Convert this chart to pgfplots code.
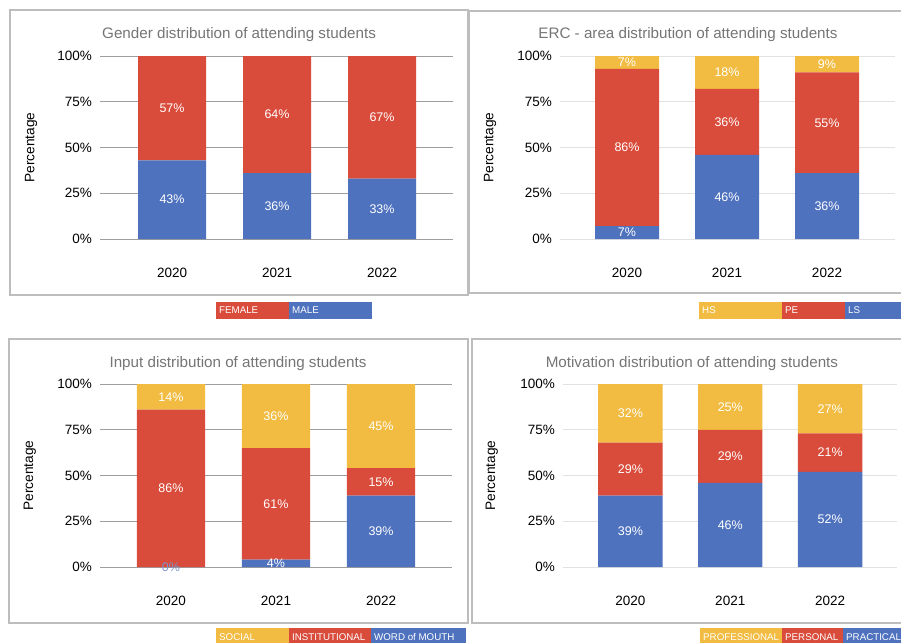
\documentclass[border=0pt]{standalone}
\usepackage{fontspec}
\setmainfont{Liberation Sans}
\usepackage{pgfplots}
\pgfplotsset{compat=1.18}

\definecolor{cblue}{HTML}{4F72BE}
\definecolor{cred}{HTML}{D94B3B}
\definecolor{cyellow}{HTML}{F1BC41}
\definecolor{ctitle}{HTML}{757575}
\definecolor{cframe}{HTML}{BDBDBD}
\definecolor{cgrid}{HTML}{9E9E9E}
\definecolor{clight}{HTML}{E2E2E2}

% 1px of the reference = 1pt here
\pgfplotsset{
  panel/.style={
    ybar stacked,
    scale only axis,
    height=183pt,
    ymin=0, ymax=100,
    xtick={0,1,2},
    xticklabels={2020,2021,2022},
    axis line style={draw=none},
    major tick length=0pt,
    ymajorgrids,
    tick label style={font=\fontsize{13.5}{16}\selectfont},
    xticklabel style={anchor=center, yshift=-34pt},
    yticklabel style={anchor=east, inner sep=0pt, xshift=-8pt},
    ylabel={Percentage},
    ylabel style={font=\fontsize{13.7}{16}\selectfont, anchor=center},
    title style={font=\fontsize{15.2}{18}\selectfont, text=ctitle, anchor=center, yshift=15pt},
    visualization depends on={value \thisrow{y} \as \rawy},
    nodes near coords={\rawy\%},
    nodes near coords style={font=\fontsize{12.5}{15}\selectfont, text=white, anchor=center},
  },
  darkgrid/.style={
    ytick={0,25,50,75,100},
    yticklabels={0\%,25\%,50\%,75\%,100\%},
    major grid style={cgrid, line width=1pt},
  },
  lightgrid/.style={
    ytick={25,50,75,100},
    yticklabels={25\%,50\%,75\%,100\%},
    major grid style={clight, line width=1pt},
    extra y ticks={0},
    extra y tick labels={0\%},
    extra y tick style={grid style={cgrid, line width=1pt}},
  },
}

\begin{document}
\begin{tikzpicture}
\useasboundingbox (0pt,0pt) rectangle (901pt,-642pt);

% panel frames
\draw[cframe, line width=1.2pt] (10pt,-10pt) rectangle (468pt,-295pt);
\draw[cframe, line width=1.2pt] (469pt,-11pt) rectangle (910pt,-293pt);
\draw[cframe, line width=1.2pt] (9pt,-339pt) rectangle (468pt,-623pt);
\draw[cframe, line width=1.2pt] (472pt,-339pt) rectangle (910pt,-623pt);

% Gender
\begin{axis}[panel, darkgrid,
  at={(100pt,-239pt)}, anchor=south west,
  width=353pt, xmin=-0.686, xmax=2.676, bar width=0.648,
  title={Gender distribution of attending students},
  title style={at={(axis description cs:0.394,1)}},
  ylabel style={at={(axis description cs:-0.195,0.5)}},
]
\addplot[fill=cblue, draw=none] table {
x y
0 43
1 36
2 33
};
\addplot[fill=cred, draw=none] table {
x y
0 57
1 64
2 67
};
\end{axis}

% ERC area
\begin{axis}[panel, lightgrid,
  at={(560pt,-239pt)}, anchor=south west,
  width=335pt, xmin=-0.67, xmax=2.68, bar width=0.64,
  title={ERC - area distribution of attending students},
  title style={at={(axis description cs:0.382,1)}},
  ylabel style={at={(axis description cs:-0.209,0.5)}},
]
\addplot[fill=cblue, draw=none] table {
x y
0 7
1 46
2 36
};
\addplot[fill=cred, draw=none] table {
x y
0 86
1 36
2 55
};
\addplot[fill=cyellow, draw=none] table {
x y
0 7
1 18
2 9
};
\end{axis}

% Input (the rounded labels do not add up to 100: bars drawn at their heights, l = label)
\begin{axis}[panel, darkgrid,
  at={(100pt,-567pt)}, anchor=south west,
  width=352pt, xmin=-0.676, xmax=2.676, bar width=0.648,
  title={Input distribution of attending students},
  title style={at={(axis description cs:0.392,1)}, yshift=-1pt},
  ylabel style={at={(axis description cs:-0.199,0.5)}},
]
\addplot[fill=cblue, draw=none] table {
x y
0 0
1 4
2 39
};
\addplot[fill=cred, draw=none] table {
x y
0 86
1 61
2 15
};
\addplot[fill=cyellow, draw=none,
  visualization depends on={value \thisrow{l} \as \labl},
  nodes near coords={\labl\%}] table {
x y l
0 14 14
1 35 36
2 46 45
};
\end{axis}
% the empty 2020 segment gets its label on top of the bars
\begin{axis}[
  at={(100pt,-567pt)}, anchor=south west,
  scale only axis, width=352pt, height=183pt,
  xmin=-0.676, xmax=2.676, ymin=0, ymax=100,
  hide axis, clip=false,
]
\addplot[only marks, mark=none,
  nodes near coords, point meta=explicit symbolic,
  nodes near coords style={font=\fontsize{12.5}{15}\selectfont, text=cblue!75, anchor=center},
] coordinates {(0,0) [0\%]};
\end{axis}

% Motivation
\begin{axis}[panel, lightgrid,
  at={(563pt,-567pt)}, anchor=south west,
  width=334pt, xmin=-0.675, xmax=2.67, bar width=0.645,
  title={Motivation distribution of attending students},
  title style={at={(axis description cs:0.386,1)}, yshift=-1pt},
  ylabel style={at={(axis description cs:-0.213,0.5)}},
]
\addplot[fill=cblue, draw=none] table {
x y
0 39
1 46
2 52
};
\addplot[fill=cred, draw=none] table {
x y
0 29
1 29
2 21
};
\addplot[fill=cyellow, draw=none] table {
x y
0 32
1 25
2 27
};
\end{axis}

% legends
\tikzset{legtext/.style={anchor=west, text=white, inner sep=0pt, font=\fontsize{9.75}{11}\selectfont}}
\fill[cred] (216pt,-302pt) rectangle (289pt,-319pt);
\fill[cblue] (289pt,-302pt) rectangle (372pt,-319pt);
\node[legtext] at (219pt,-310.5pt) {FEMALE};
\node[legtext] at (292pt,-310.5pt) {MALE};

\fill[cyellow] (699pt,-302pt) rectangle (782pt,-319pt);
\fill[cred] (782pt,-302pt) rectangle (845pt,-319pt);
\fill[cblue] (845pt,-302pt) rectangle (910pt,-319pt);
\node[legtext] at (702pt,-310.5pt) {HS};
\node[legtext] at (785pt,-310.5pt) {PE};
\node[legtext] at (848pt,-310.5pt) {LS};

\fill[cyellow] (216pt,-628pt) rectangle (289pt,-648pt);
\fill[cred] (289pt,-628pt) rectangle (371pt,-648pt);
\fill[cblue] (371pt,-628pt) rectangle (466pt,-648pt);
\node[legtext] at (219pt,-637pt) {SOCIAL};
\node[legtext] at (292pt,-637pt) {INSTITUTIONAL};
\node[legtext] at (374pt,-637pt) {WORD of MOUTH};

\fill[cyellow] (700pt,-628pt) rectangle (782pt,-648pt);
\fill[cred] (782pt,-628pt) rectangle (843pt,-648pt);
\fill[cblue] (843pt,-628pt) rectangle (910pt,-648pt);
\node[legtext] at (703pt,-637pt) {PROFESSIONAL};
\node[legtext] at (785pt,-637pt) {PERSONAL};
\node[legtext] at (846pt,-637pt) {PRACTICAL};
\end{tikzpicture}
\end{document}
